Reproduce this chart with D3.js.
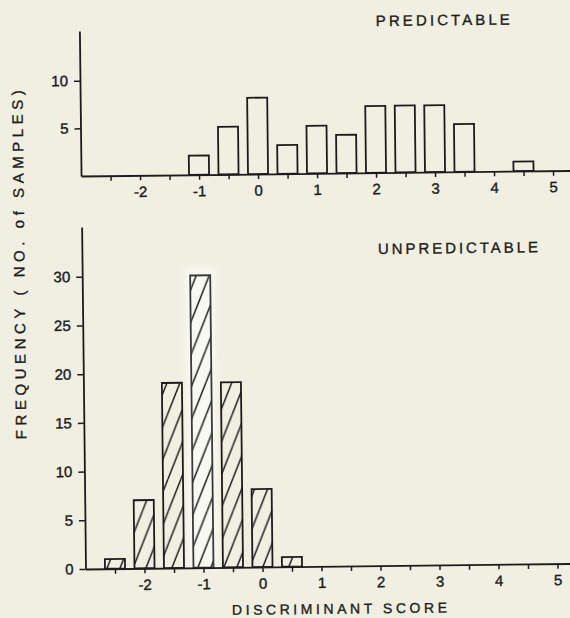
<!DOCTYPE html>
<html>
<head>
<meta charset="utf-8">
<script src="https://cdnjs.cloudflare.com/ajax/libs/d3/7.8.5/d3.min.js"></script>
<style>
  html, body { margin: 0; padding: 0; background: #f0efe2; }
  svg { display: block; }
  text { font-family: "Liberation Sans", Arial, sans-serif; fill: #1c1c1c; }
</style>
</head>
<body>
<svg id="chart" width="570" height="618"></svg>
<script>
// Bin centres of the discriminant score histograms (bin width 0.5)
const predictableBins   = [-1, -0.5, 0, 0.5, 1, 1.5, 2, 2.5, 3, 3.5, 4, 4.5];
const predictableCounts = [ 2,  5,   8, 3,   5, 4,   7, 7,   7, 5,   0, 1];

const unpredictableBins   = [-2.5, -2, -1.5, -1, -0.5, 0, 0.5];
const unpredictableCounts = [ 1,    7,  19,  30,  19,   8, 1];

// Axis ticks and labels
const xTickValues = [-2.5, -2, -1.5, -1, -0.5, 0, 0.5, 1, 1.5, 2, 2.5, 3, 3.5, 4, 4.5, 5];
const xLabelValues = [-2, -1, 0, 1, 2, 3, 4, 5];
const topYTicks = [5, 10];
const bottomYTicks = [0, 5, 10, 15, 20, 25, 30];

const titleTop = "PREDICTABLE";
const titleBottom = "UNPREDICTABLE";
const xTitle = "DISCRIMINANT SCORE";
const yTitle = "FREQUENCY ( NO. of SAMPLES)";

const ink = "#1c1c1c";
const svg = d3.select("#chart");

// Hatching for the unpredictable bars
const defs = svg.append("defs");
const pat = defs.append("pattern")
  .attr("id", "hatch")
  .attr("patternUnits", "userSpaceOnUse")
  .attr("width", 13).attr("height", 32);
[[-13, 32, 0, 0], [0, 32, 13, 0], [13, 32, 26, 0]].forEach(([x1, y1, x2, y2]) => {
  pat.append("line").attr("x1", x1).attr("y1", y1).attr("x2", x2).attr("y2", y2)
    .attr("stroke", ink).attr("stroke-width", 1.5);
});
defs.append("filter").attr("id", "soft")
  .attr("x", "-50%").attr("y", "-20%").attr("width", "200%").attr("height", "140%")
  .append("feGaussianBlur").attr("stdDeviation", 3);

// Whole figure sits slightly tilted on the page
const fig = svg.append("g").attr("transform", "rotate(-0.65, 85.5, 569)");

const x = d3.scaleLinear().domain([-3, 5.5]).range([85.5, 587]);
const barW = x(0.34) - x(0);

const yTop = d3.scaleLinear().domain([0, 15.2]).range([176, 31]);
const yBot = d3.scaleLinear().domain([0, 35.1]).range([569, 227]);

function styleAxis(sel) {
  sel.select(".domain").attr("stroke", ink).attr("stroke-width", 1.8);
  sel.selectAll(".tick line").attr("stroke", ink).attr("stroke-width", 1.5);
  sel.selectAll(".tick text").attr("fill", ink).style("font-size", "15px")
    .style("font-family", "'Liberation Sans', Arial, sans-serif")
    .attr("stroke", ink).attr("stroke-width", 0.4);
}

function xAxis() {
  return d3.axisBottom(x)
    .tickValues(xTickValues)
    .tickSize(5).tickSizeOuter(0).tickPadding(6)
    .tickFormat(d => xLabelValues.includes(d) ? String(d) : "");
}

// ---- Upper panel: predictable samples ----
const upper = fig.append("g");
upper.selectAll("rect.bar")
  .data(predictableBins.map((b, i) => ({ b, v: predictableCounts[i] })).filter(d => d.v > 0))
  .join("rect")
  .attr("class", "bar")
  .attr("x", d => x(d.b) - barW / 2)
  .attr("width", barW)
  .attr("y", d => yTop(d.v))
  .attr("height", d => yTop(0) - yTop(d.v))
  .attr("fill", "none").attr("stroke", ink).attr("stroke-width", 1.8);

upper.append("g").attr("transform", `translate(0,${yTop(0)})`)
  .call(xAxis()).call(styleAxis);
upper.append("g").attr("transform", `translate(${x(-3)},0)`)
  .call(d3.axisLeft(yTop).tickValues(topYTicks).tickSize(6).tickSizeOuter(0).tickPadding(6))
  .call(styleAxis);

upper.append("text")
  .attr("x", 449).attr("y", 24).attr("dy", "0.36em")
  .attr("text-anchor", "middle")
  .attr("textLength", 134).attr("lengthAdjust", "spacing")
  .style("font-size", "15px").attr("stroke", ink).attr("stroke-width", 0.35)
  .text(titleTop);

// ---- Lower panel: unpredictable samples ----
const lower = fig.append("g");
const lowerData = unpredictableBins.map((b, i) => ({ b, v: unpredictableCounts[i] }));
const peak = d3.max(unpredictableCounts);

// soft light halo around the tallest bar
lower.selectAll("rect.halo")
  .data(lowerData.filter(d => d.v === peak))
  .join("rect")
  .attr("class", "halo")
  .attr("x", d => x(d.b) - barW / 2 - 5)
  .attr("width", barW + 10)
  .attr("y", d => yBot(d.v) - 8)
  .attr("height", d => yBot(0) - yBot(d.v) + 8)
  .attr("fill", "#f9f9f3")
  .attr("filter", "url(#soft)");

lower.selectAll("rect.bar")
  .data(lowerData)
  .join("rect")
  .attr("class", "bar")
  .attr("x", d => x(d.b) - barW / 2)
  .attr("width", barW)
  .attr("y", d => yBot(d.v))
  .attr("height", d => yBot(0) - yBot(d.v))
  .attr("fill", "url(#hatch)")
  .attr("stroke", d => d.v === peak ? "#3a3a3a" : ink)
  .attr("stroke-width", 1.8);

lower.append("g").attr("transform", `translate(0,${yBot(0)})`)
  .call(xAxis()).call(styleAxis);
lower.append("g").attr("transform", `translate(${x(-3)},0)`)
  .call(d3.axisLeft(yBot).tickValues(bottomYTicks).tickSize(6).tickSizeOuter(0).tickPadding(6))
  .call(styleAxis);

lower.append("text")
  .attr("x", 461.5).attr("y", 252).attr("dy", "0.36em")
  .attr("text-anchor", "middle")
  .attr("textLength", 160).attr("lengthAdjust", "spacing")
  .style("font-size", "15px").attr("stroke", ink).attr("stroke-width", 0.35)
  .text(titleBottom);

// ---- Axis titles ----
fig.append("text")
  .attr("x", 339).attr("y", 611.5).attr("dy", "0.36em")
  .attr("text-anchor", "middle")
  .attr("textLength", 215).attr("lengthAdjust", "spacing")
  .style("font-size", "14px").attr("stroke", ink).attr("stroke-width", 0.35)
  .text(xTitle);

fig.append("text")
  .attr("transform", "translate(22.5,264) rotate(-90)")
  .attr("dy", "0.36em")
  .attr("text-anchor", "middle")
  .attr("textLength", 349).attr("lengthAdjust", "spacing")
  .style("font-size", "15px").attr("stroke", ink).attr("stroke-width", 0.35)
  .text(yTitle);
</script>
</body>
</html>
